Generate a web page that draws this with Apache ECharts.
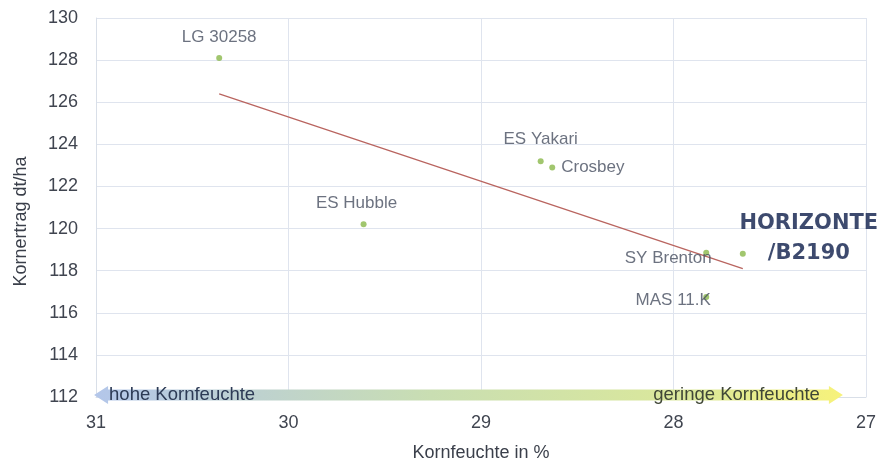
<!DOCTYPE html>
<html><head><meta charset="utf-8">
<script src="https://cdn.jsdelivr.net/npm/echarts@6/dist/echarts.min.js"></script>
<style>html,body{margin:0;padding:0;background:#fff}#c{width:877px;height:464px}</style>
</head><body><div id="c"></div>
<script>
const varieties = ['LG 30258','ES Hubble','ES Yakari','Crosbey','SY Brenton','MAS 11.K','HORIZONTE\n/B2190'];
const moisture = [30.36, 29.61, 28.69, 28.63, 27.83, 27.83, 27.64];
const yieldDt = [128.1, 120.2, 123.2, 122.9, 118.85, 116.75, 118.8];
const trendX = [30.36, 27.64];
const trendY = [126.4, 118.1];
const xTicks = [31, 30, 29, 28, 27];
const yTicks = [112, 114, 116, 118, 120, 122, 124, 126, 128, 130];
const arrowLabels = ['hohe Kornfeuchte', 'geringe Kornfeuchte'];

const FONT = '"Liberation Sans", Arial, sans-serif';
const labelStyles = [
  {position:'top', distance:9},
  {position:'top', distance:10, offset:[-7,0]},
  {position:'top', distance:10},
  {position:'right', distance:6},
  {position:'inside', offset:[-38,6]},
  {position:'inside', offset:[-33,3]},
  {position:'inside', offset:[66,-15], fontSize:21, fontWeight:'bold', color:'#0c1d4a', lineHeight:30, align:'center', fontFamily:'"DejaVu Sans", sans-serif'}
];
const scatterData = varieties.map((n,i)=>({
  name:n, value:[moisture[i], yieldDt[i]],
  label:Object.assign({show:true, formatter:'{b}', color:'#474f60', fontSize:17, fontFamily:FONT, textBorderWidth:0, textBorderColor:'transparent'}, labelStyles[i])
}));

const chart = echarts.init(document.getElementById('c'));
chart.setOption({
  backgroundColor:'#fff',
  animation:false,
  grid:{left:96, right:11, top:18, bottom:67, outerBoundsMode:'none', containLabel:false},
  xAxis:{type:'value', inverse:true, min:xTicks[xTicks.length-1], max:xTicks[0], interval:1,
    name:'Kornfeuchte in %', nameLocation:'middle', nameGap:47,
    nameTextStyle:{color:'#3a3f4a', fontSize:18, fontFamily:FONT},
    axisLine:{show:true, lineStyle:{color:'#d9dfe8'}}, axisTick:{show:false},
    axisLabel:{color:'#404550', fontSize:18, fontFamily:FONT, margin:17},
    splitLine:{show:true, lineStyle:{color:'#dfe4ee'}}},
  yAxis:{type:'value', min:yTicks[0], max:yTicks[yTicks.length-1], interval:2,
    name:'Kornertrag dt/ha', nameLocation:'middle', nameGap:66,
    nameTextStyle:{color:'#3a3f4a', fontSize:18, fontFamily:FONT, padding:[0,28,0,0]},
    axisLine:{show:true, lineStyle:{color:'#d9dfe8'}}, axisTick:{show:false},
    axisLabel:{color:'#404550', fontSize:18, fontFamily:FONT, margin:18},
    splitLine:{show:true, lineStyle:{color:'#dfe4ee'}}},
  series:[
    {type:'custom', silent:true, z:1, data:[[xTicks[0], yTicks[0]]],
      renderItem:function(params, api){
        const p1 = api.coord([31.01, 112.1]);
        const p2 = api.coord([27.12, 112.1]);
        const h = 5.5, head = 14, hh = 9;
        const x1=p1[0], x2=p2[0], y=p1[1];
        return {type:'group', children:[
          {type:'polygon', shape:{points:[
            [x1, y], [x1+head, y-hh], [x1+head, y-h], [x2-head, y-h], [x2-head, y-hh], [x2, y],
            [x2-head, y+hh], [x2-head, y+h], [x1+head, y+h], [x1+head, y+hh]]},
            style:{fill:new echarts.graphic.LinearGradient(0,0,1,0,[
              {offset:0, color:'#b3c6ea'},{offset:0.45, color:'#c9deb2'},{offset:0.8, color:'#dbe89a'},{offset:1, color:'#f7f27a'}])}},
          {type:'text', style:{x:x1+15, y:y, text:arrowLabels[0], fill:'#2c3a55', fontSize:18.5, fontFamily:FONT, verticalAlign:'middle', align:'left'}},
          {type:'text', style:{x:x2-23, y:y, text:arrowLabels[1], fill:'#3f4636', fontSize:18.5, fontFamily:FONT, verticalAlign:'middle', align:'right'}}
        ]};
      }},
    {type:'line', data:trendX.map((x,i)=>[x, trendY[i]]), symbol:'none', z:3,
      lineStyle:{color:'#b9645f', width:1.3}},
    {type:'scatter', data:scatterData, symbolSize:6, z:4,
      itemStyle:{color:'#8ab84a'}}
  ]
});
</script></body></html>
